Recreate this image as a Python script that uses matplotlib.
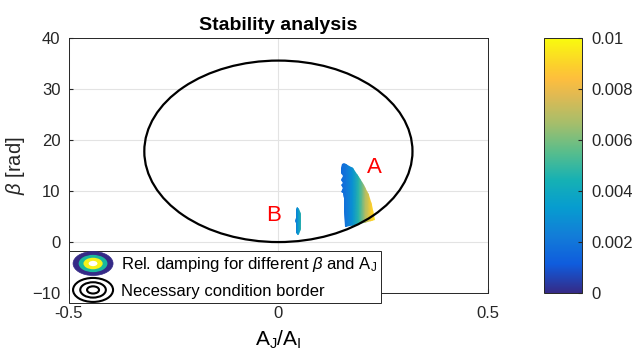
import numpy as np
import matplotlib
matplotlib.use('Agg')
import matplotlib.pyplot as plt
from matplotlib.colors import LinearSegmentedColormap, Normalize
from matplotlib.patches import Ellipse, Patch, Polygon
from matplotlib.lines import Line2D
from matplotlib.legend_handler import HandlerBase

plt.rcParams['font.family'] = ['Liberation Sans', 'DejaVu Sans']
plt.rcParams['mathtext.fontset'] = 'custom'
plt.rcParams['mathtext.rm'] = 'Liberation Sans'
plt.rcParams['mathtext.it'] = 'Liberation Sans:italic'

# necessary condition border (ellipse in the A_J/A_I - beta plane)
border_center = (0.0, 17.8)
border_width = 0.64
border_height = 35.6

# region A: outline and damping across A_J/A_I
outline_A_x = [0.152, 0.1575, 0.177, 0.1933, 0.2053, 0.2157, 0.2237, 0.2291, 0.2308,
               0.195, 0.160, 0.1575, 0.156, 0.1544, 0.1504, 0.1535, 0.1504, 0.1535,
               0.1496, 0.1535, 0.1487, 0.1504]
outline_A_b = [15.3, 15.5, 14.5, 12.85, 11.2, 9.25, 7.3, 5.3, 4.3,
               3.6, 3.0, 6.0, 8.6, 9.6, 9.9, 10.6, 11.1, 11.6,
               12.2, 12.9, 13.5, 14.5]
cols_A = [0.147, 0.162, 0.177, 0.192, 0.207, 0.222, 0.237]
damp_A = [0.0015, 0.0020, 0.0030, 0.0048, 0.0068, 0.0088, 0.0100]

# region B
outline_B_x = [0.045, 0.050, 0.053, 0.055, 0.055, 0.053, 0.050, 0.046, 0.043,
               0.042, 0.041, 0.039, 0.042, 0.042, 0.043]
outline_B_b = [6.9, 6.5, 5.5, 4.5, 3.5, 2.5, 1.6, 1.3, 1.8,
               2.8, 3.8, 4.2, 4.8, 5.8, 6.5]
cols_B = [0.038, 0.047, 0.056]
damp_B = [0.0017, 0.0032, 0.0050]

cbar_ticks = [0, 0.002, 0.004, 0.006, 0.008, 0.01]
cbar_labels = ['0', '0.002', '0.004', '0.006', '0.008', '0.01']

# parula-like colormap
parula = LinearSegmentedColormap.from_list('parula', [
    (0 / 63, (0.2081, 0.1663, 0.5292)),
    (7 / 63, (0.0591, 0.3598, 0.8683)),
    (14 / 63, (0.0723, 0.4887, 0.8467)),
    (21 / 63, (0.0265, 0.6137, 0.8135)),
    (28 / 63, (0.0843, 0.6928, 0.7062)),
    (35 / 63, (0.3482, 0.7424, 0.5473)),
    (42 / 63, (0.6473, 0.7456, 0.4188)),
    (49 / 63, (0.8824, 0.7274, 0.3217)),
    (53 / 63, (0.9938, 0.7455, 0.2403)),
    (56 / 63, (0.9880, 0.8066, 0.1794)),
    (63 / 63, (0.9763, 0.9831, 0.0538)),
])
norm = Normalize(vmin=0, vmax=0.01)


class ContourIcon(HandlerBase):
    def __init__(self, layers):
        super().__init__()
        self.layers = layers

    def create_artists(self, legend, orig_handle, xdescent, ydescent,
                       width, height, fontsize, trans):
        cx = width / 2 - xdescent
        cy = height / 2 - ydescent
        arts = []
        for s, fc, ec, lw in self.layers:
            e = Ellipse((cx, cy), width * s, height * 1.45 * s, facecolor=fc,
                        edgecolor=ec, lw=lw, transform=trans)
            arts.append(e)
        return arts


fig = plt.figure(figsize=(6.32, 3.6), dpi=100)
ax = fig.add_axes([0.109, 0.186, 0.663, 0.708])
cax = fig.add_axes([0.861, 0.186, 0.060, 0.708])

for ox, ob, cols, damp in [(outline_A_x, outline_A_b, cols_A, damp_A),
                           (outline_B_x, outline_B_b, cols_B, damp_B)]:
    poly = Polygon(np.column_stack([ox, ob]), closed=True, facecolor='none',
                   edgecolor='none')
    ax.add_patch(poly)
    X, Y = np.meshgrid(cols, [min(ob) - 1, max(ob) + 1])
    C = np.array([damp, damp])
    qm = ax.pcolormesh(X, Y, C, shading='gouraud', cmap=parula, norm=norm, zorder=2)
    qm.set_clip_path(poly)

ax.add_patch(Ellipse(border_center, border_width, border_height, fill=False,
                     edgecolor='black', lw=1.6, zorder=3))

ax.text(0.229, 14.6, 'A', color='red', fontsize=16, ha='center', va='center')
ax.text(-0.012, 5.3, 'B', color='red', fontsize=16, ha='center', va='center')

ax.set_xlim(-0.5, 0.5)
ax.set_ylim(-10, 40)
ax.set_xticks([-0.5, 0, 0.5])
ax.set_xticklabels(['-0.5', '0', '0.5'])
ax.set_yticks([-10, 0, 10, 20, 30, 40])
ax.grid(True, color='#e3e3e3', lw=0.8)
ax.set_axisbelow(True)
ax.tick_params(direction='in', length=3, labelsize=12, colors='#262626', pad=6)
ax.tick_params(axis='x', pad=9)
for sp in ax.spines.values():
    sp.set_color('#262626')
    sp.set_linewidth(0.7)

ax.set_title('Stability analysis', fontsize=14, fontweight='bold', pad=6)
ax.set_xlabel(r'$\mathregular{A_J/A_I}$', fontsize=15, labelpad=6)
ax.set_ylabel(r'$\beta$ [rad]', fontsize=14.5, labelpad=4, color='#262626')

h1 = Patch()
h2 = Line2D([], [])
navy = (0.2081, 0.1663, 0.5292)
handler1 = ContourIcon([(1.0, navy, navy, 0.5),
                        (0.72, (0.1, 0.72, 0.62), 'none', 0),
                        (0.48, (0.97, 0.95, 0.1), 'none', 0),
                        (0.22, 'white', 'none', 0)])
handler2 = ContourIcon([(1.0, 'none', 'black', 1.5),
                        (0.64, 'none', 'black', 1.5),
                        (0.3, 'none', 'black', 1.5)])
leg = ax.legend([h1, h2],
                [r'Rel. damping for different $\beta$ and $\mathregular{A_J}$',
                 'Necessary condition border'],
                handler_map={h1: handler1, h2: handler2},
                loc='upper left', bbox_to_anchor=(0.0, 0.165),
                fontsize=12, frameon=True, fancybox=False, framealpha=1,
                edgecolor='#262626', handlelength=2.4, handleheight=1.15,
                handletextpad=0.45, borderpad=0.25, labelspacing=0.45,
                borderaxespad=0)
leg.get_frame().set_linewidth(0.7)
leg.set_zorder(5)

cb = fig.colorbar(plt.cm.ScalarMappable(norm=norm, cmap=parula), cax=cax,
                  ticks=cbar_ticks)
cb.ax.set_yticklabels(cbar_labels)
cb.ax.tick_params(direction='in', length=3, labelsize=12, colors='#262626', pad=7)
cb.outline.set_linewidth(0.7)
cb.outline.set_edgecolor('#262626')

fig.savefig('out.png', dpi=100)
